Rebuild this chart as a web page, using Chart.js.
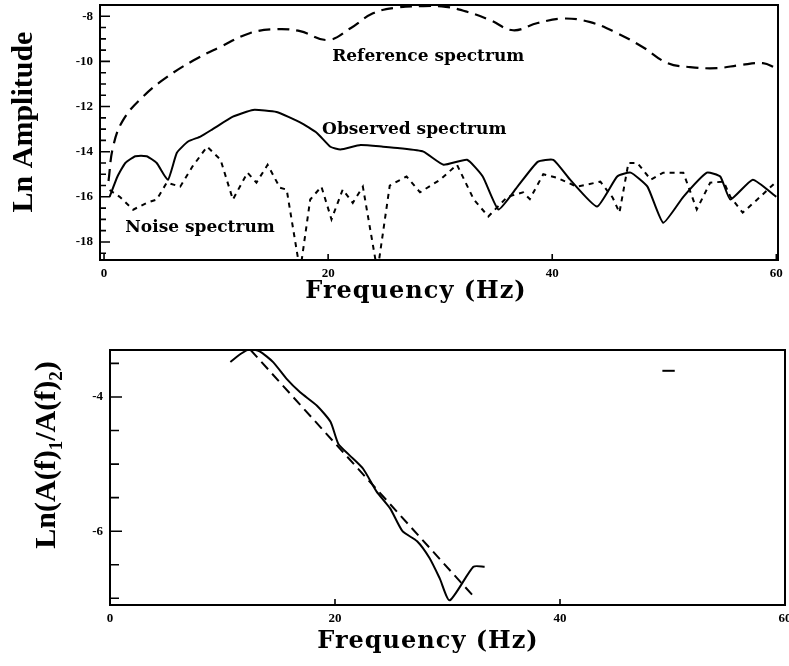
<!DOCTYPE html>
<html>
<head>
<meta charset="utf-8">
<script src="https://cdn.jsdelivr.net/npm/chart.js@4.4.1/dist/chart.umd.min.js"></script>
<style>
  html, body { margin: 0; padding: 0; background: #fff; }
  #wrap { position: relative; width: 789px; height: 666px; overflow: hidden; }
  canvas { position: absolute; left: 0; }
  #topChart { top: 0; }
  #bottomChart { top: 320px; }
</style>
</head>
<body>
<div id="wrap">
  <canvas id="topChart" width="789" height="320" style="width:789px;height:320px"></canvas>
  <canvas id="bottomChart" width="789" height="346" style="width:789px;height:346px"></canvas>
</div>
<script>
// Top panel: spectra, frequency (Hz) vs ln amplitude
const refFreq = [0.4, 0.8, 1.7, 3.5, 5.6, 8.0, 10.4, 13.0, 15.4, 17.5, 20.0, 22.0, 24.0, 26.0, 28.5, 30.5, 32.4, 34.5, 36.5, 38.7, 41.0, 43.4, 45.8, 48.1, 50.3, 52.3, 54.7, 56.8, 58.8, 60.0];
const refAmp = [-15.3, -13.8, -12.6, -11.55, -10.7, -9.95, -9.35, -8.75, -8.57, -8.66, -9.05, -8.53, -7.87, -7.62, -7.55, -7.58, -7.8, -8.18, -8.62, -8.3, -8.1, -8.26, -8.75, -9.37, -10.08, -10.25, -10.3, -10.16, -10.08, -10.3];

const obsFreq = [0.5, 1.2, 1.9, 2.8, 3.8, 4.7, 5.7, 6.5, 7.5, 8.6, 9.7, 11.5, 13.3, 15.4, 17.5, 19.0, 20.2, 21.1, 22.9, 24.9, 26.4, 28.5, 30.3, 32.4, 33.8, 35.2, 36.9, 38.7, 40.1, 41.6, 44.0, 45.8, 47.0, 48.5, 49.9, 51.7, 53.8, 55.0, 55.9, 57.9, 60.0];
const obsAmp = [-16.0, -15.1, -14.5, -14.2, -14.2, -14.5, -15.25, -14.05, -13.55, -13.33, -13.0, -12.45, -12.15, -12.24, -12.7, -13.17, -13.78, -13.9, -13.7, -13.78, -13.85, -14.0, -14.58, -14.36, -15.1, -16.56, -15.55, -14.45, -14.36, -15.24, -16.43, -15.1, -14.93, -15.55, -17.15, -16.0, -14.93, -15.1, -16.12, -15.24, -16.0];

const noiseFreq = [0.5, 1.4, 2.6, 3.8, 4.7, 5.6, 6.8, 7.9, 9.2, 10.4, 11.5, 12.8, 13.6, 14.6, 15.7, 16.3, 17.5, 18.4, 19.4, 20.3, 21.3, 22.2, 23.1, 24.4, 25.5, 27.0, 28.2, 30.0, 31.5, 33.0, 34.3, 36.0, 37.4, 38.0, 39.2, 40.4, 42.2, 44.3, 45.4, 46.0, 46.8, 47.6, 48.8, 49.9, 51.7, 52.9, 54.1, 55.3, 55.9, 57.0, 58.3, 60.0];
const noiseAmp = [-15.7, -16.0, -16.57, -16.27, -16.12, -15.37, -15.55, -14.65, -13.78, -14.36, -16.12, -14.93, -15.37, -14.58, -15.6, -15.68, -19.3, -16.12, -15.55, -17.0, -15.68, -16.27, -15.55, -19.3, -15.5, -15.1, -15.8, -15.24, -14.58, -16.12, -16.87, -16.0, -15.8, -16.1, -15.0, -15.15, -15.55, -15.33, -16.04, -16.7, -14.5, -14.5, -15.24, -14.93, -14.93, -16.56, -15.37, -15.33, -16.0, -16.7, -16.12, -15.33];

const topXTicks = [0, 20, 40, 60];
const topYTicks = [-18, -16, -14, -12, -10, -8];

// Bottom panel: spectral ratio and its straight-line fit
const ratioFreq = [10.7, 11.6, 12.4, 13.3, 14.5, 15.7, 16.9, 18.4, 19.6, 20.3, 21.3, 22.5, 23.7, 24.9, 26.0, 27.3, 28.4, 29.3, 30.2, 32.3, 33.3];
const ratioVal = [-3.48, -3.36, -3.29, -3.32, -3.48, -3.73, -3.93, -4.13, -4.37, -4.7, -4.87, -5.07, -5.41, -5.66, -6.0, -6.15, -6.4, -6.7, -7.03, -6.53, -6.53];

const fitFreq = [12.5, 32.2];
const fitVal = [-3.3, -6.95];

const markFreq = [49.1, 50.2];
const markVal = [-3.61, -3.61];

const bottomXTicks = [0, 20, 40, 60];
const bottomYTicks = [-6, -4];

function pts(xs, ys) {
    return xs.map((x, i) => ({ x: x, y: ys[i] }));
}

const tickFont = { family: '"Liberation Serif", serif', size: 13, weight: 'bold' };

// frame, inward ticks and all free text
const framePlugin = {
    id: 'frame',
    afterDraw(chart, args, o) {
        const { ctx, chartArea: a, scales: { x, y } } = chart;
        ctx.save();
        ctx.strokeStyle = '#000';
        ctx.lineWidth = 2;
        ctx.strokeRect(a.left, a.top, a.right - a.left, a.bottom - a.top);

        ctx.lineWidth = 1.6;
        ctx.beginPath();
        const n = Math.round((y.max - y.min) / o.yMinor) + 2;
        const start = Math.ceil(y.min / o.yMinor) * o.yMinor;
        for (let i = 0; i < n; i++) {
            const v = start + i * o.yMinor;
            if (v > y.max) break;
            const major = Math.abs(v / o.yMajor - Math.round(v / o.yMajor)) < 1e-6;
            const py = y.getPixelForValue(v);
            ctx.moveTo(a.left, py);
            ctx.lineTo(a.left + (major ? o.yMajorLen : o.yMinorLen), py);
        }
        o.xTicks.forEach(v => {
            const px = x.getPixelForValue(v);
            ctx.moveTo(px, a.bottom);
            ctx.lineTo(px, a.bottom - o.xLen);
        });
        ctx.stroke();

        ctx.fillStyle = '#000';
        ctx.textBaseline = 'alphabetic';
        (o.notes || []).forEach(nt => {
            ctx.font = 'bold 17px "DejaVu Serif", serif';
            ctx.textAlign = 'left';
            ctx.fillText(nt.text, x.getPixelForValue(nt.x), y.getPixelForValue(nt.y));
        });

        // x title
        ctx.font = 'bold 24px "DejaVu Serif", serif';
        ctx.letterSpacing = '1px';
        ctx.textAlign = 'center';
        ctx.fillText(o.xTitle.text, o.xTitle.cx, o.xTitle.base);
        ctx.letterSpacing = '0px';

        // y title (rotated, optional subscripts)
        const t = o.yTitle;
        ctx.translate(t.base, t.cy);
        ctx.rotate(-Math.PI / 2);
        const big = 'bold ' + t.size + 'px "Liberation Serif", serif';
        const small = 'bold ' + Math.round(t.size * 0.62) + 'px "Liberation Serif", serif';
        let total = 0;
        t.parts.forEach(p => { ctx.font = p.sub ? small : big; total += ctx.measureText(p.s).width; });
        let cx = -total / 2;
        ctx.textAlign = 'left';
        t.parts.forEach(p => {
            ctx.font = p.sub ? small : big;
            ctx.fillText(p.s, cx, p.sub ? t.size * 0.22 : 0);
            cx += ctx.measureText(p.s).width;
        });
        ctx.restore();
    }
};

function axisX(min, max, ticks, height) {
    return {
        type: 'linear', min: min, max: max,
        grid: { display: false, drawTicks: false },
        border: { display: false },
        ticks: { font: tickFont, color: '#000', padding: 6, maxRotation: 0 },
        afterBuildTicks: s => { s.ticks = ticks.map(v => ({ value: v })); },
        afterFit: s => { s.height = height; s.paddingLeft = 0; s.paddingRight = 0; }
    };
}

function axisY(min, max, ticks, width) {
    return {
        type: 'linear', min: min, max: max,
        grid: { display: false, drawTicks: false },
        border: { display: false },
        ticks: { font: tickFont, color: '#000', padding: 7 },
        afterBuildTicks: s => { s.ticks = ticks.map(v => ({ value: v })); },
        afterFit: s => { s.width = width; s.paddingTop = 0; s.paddingBottom = 0; }
    };
}

// Top chart
new Chart(document.getElementById('topChart'), {
    type: 'line',
    data: {
        datasets: [
            { label: 'Reference spectrum', data: pts(refFreq, refAmp), borderColor: '#000', borderWidth: 2.2, borderDash: [12, 7], tension: 0.4 },
            { label: 'Observed spectrum', data: pts(obsFreq, obsAmp), borderColor: '#000', borderWidth: 2, tension: 0.15 },
            { label: 'Noise spectrum', data: pts(noiseFreq, noiseAmp), borderColor: '#000', borderWidth: 2, borderDash: [5, 5], tension: 0 }
        ]
    },
    options: {
        responsive: false,
        animation: false,
        parsing: false,
        elements: { point: { radius: 0 } },
        layout: { padding: { left: 0, right: 11, top: 5, bottom: 0 } },
        scales: {
            x: axisX(-0.36, 60.15, topXTicks, 60),
            y: axisY(-18.8, -7.5, topYTicks, 100)
        },
        plugins: {
            legend: { display: false },
            tooltip: { enabled: false },
            frame: {
                yMajor: 2, yMinor: 0.5, yMajorLen: 10, yMinorLen: 6,
                xTicks: topXTicks, xLen: 6,
                notes: [
                    { text: 'Reference spectrum', x: 20.36, y: -9.99 },
                    { text: 'Observed spectrum', x: 19.46, y: -13.21 },
                    { text: 'Noise spectrum', x: 1.9, y: -17.54 }
                ],
                xTitle: { text: 'Frequency (Hz)', cx: 416, base: 298 },
                yTitle: { base: 32, cy: 122, size: 30, parts: [{ s: 'Ln Amplitude' }] }
            }
        }
    },
    plugins: [framePlugin]
});

// Bottom chart
new Chart(document.getElementById('bottomChart'), {
    type: 'line',
    data: {
        datasets: [
            { label: 'Observed ratio', data: pts(ratioFreq, ratioVal), borderColor: '#000', borderWidth: 2, tension: 0.2 },
            { label: 'Fit', data: pts(fitFreq, fitVal), borderColor: '#000', borderWidth: 2, borderDash: [10, 6], tension: 0 },
            { label: 'Mark', data: pts(markFreq, markVal), borderColor: '#000', borderWidth: 2, tension: 0 }
        ]
    },
    options: {
        responsive: false,
        animation: false,
        parsing: false,
        elements: { point: { radius: 0 } },
        layout: { padding: { left: 0, right: 4, top: 30, bottom: 0 } },
        scales: {
            x: axisX(0, 60, bottomXTicks, 61),
            y: axisY(-7.1, -3.3, bottomYTicks, 110)
        },
        plugins: {
            legend: { display: false },
            tooltip: { enabled: false },
            frame: {
                yMajor: 2, yMinor: 0.5, yMajorLen: 12, yMinorLen: 9,
                xTicks: bottomXTicks, xLen: 6,
                xTitle: { text: 'Frequency (Hz)', cx: 428, base: 328 },
                yTitle: {
                    base: 55, cy: 135, size: 30,
                    parts: [{ s: 'Ln(A(f)' }, { s: '1', sub: true }, { s: '/A(f)' }, { s: '2', sub: true }, { s: ')' }]
                }
            }
        }
    },
    plugins: [framePlugin]
});
</script>
</body>
</html>
